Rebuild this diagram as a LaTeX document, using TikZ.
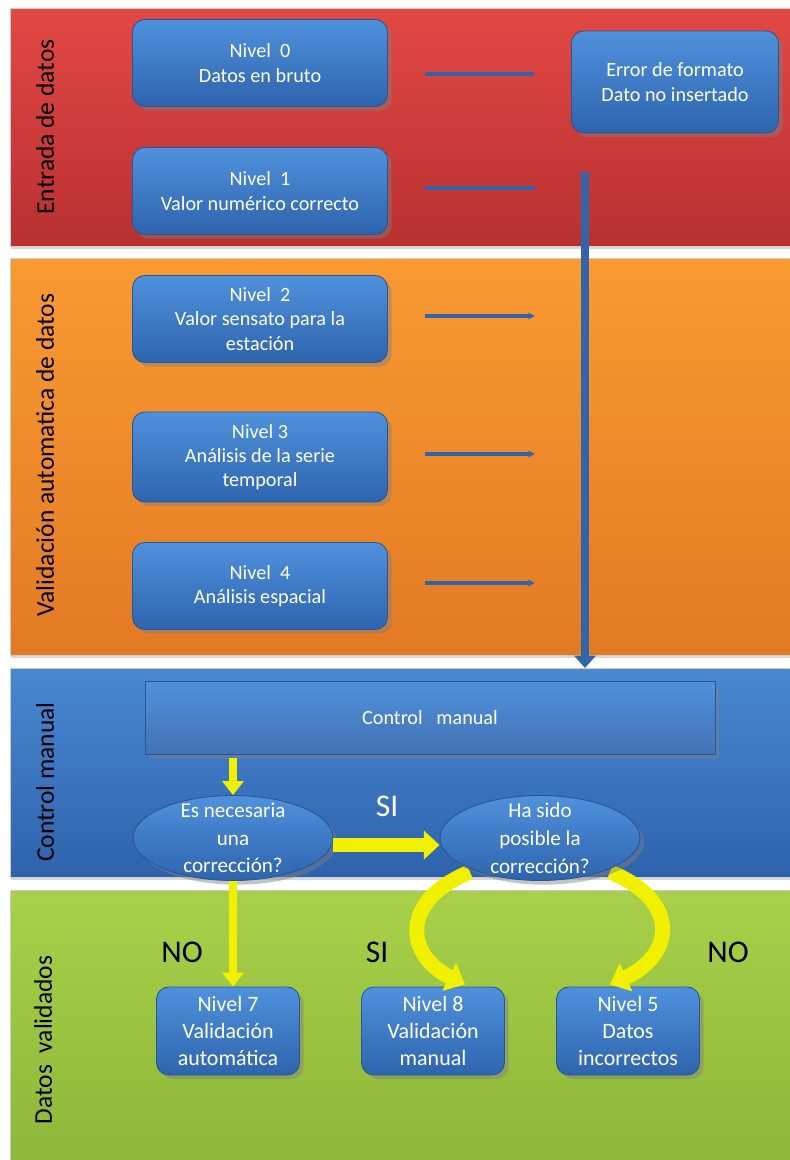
\documentclass[tikz,border=0pt]{standalone}
\usepackage{fontspec}
\setmainfont{Carlito}
\usetikzlibrary{positioning,arrows.meta,shadows,calc,shapes.geometric}

\definecolor{redtop}{RGB}{226,72,68}
\definecolor{redbot}{RGB}{184,48,48}
\definecolor{orgtop}{RGB}{250,154,50}
\definecolor{orgbot}{RGB}{226,122,36}
\definecolor{blutop}{RGB}{74,136,210}
\definecolor{blubot}{RGB}{46,98,172}
\definecolor{grntop}{RGB}{168,208,74}
\definecolor{grnbot}{RGB}{140,182,56}
\definecolor{boxtop}{RGB}{80,145,220}
\definecolor{boxbot}{RGB}{46,100,174}
\definecolor{boxline}{RGB}{40,86,150}
\definecolor{linkblue}{RGB}{52,100,168}
\definecolor{yarr}{RGB}{240,240,0}

\begin{document}
\begin{tikzpicture}[x=0.02cm, y=-0.02cm]
\tikzset{
  band/.style={draw=black!20, line width=0.5pt,
    drop shadow={opacity=0.3, shadow xshift=0.6pt, shadow yshift=-1.6pt}},
  bandlbl/.style={rotate=90, text=black, font=\fontsize{14.5}{16}\selectfont},
  lvl/.style={rectangle, rounded corners=7pt, draw=boxline, line width=0.5pt,
    top color=boxtop, bottom color=boxbot, text=white, align=center,
    minimum width=5.1cm, minimum height=1.74cm, inner sep=2pt,
    font=\fontsize{11.5}{13.8}\selectfont, drop shadow={opacity=0.45}},
  lvlsm/.style={lvl, minimum width=2.86cm, minimum height=1.76cm,
    font=\fontsize{12.5}{15.5}\selectfont},
  ctlbox/.style={rectangle, draw=boxline, line width=0.5pt,
    top color=boxtop, bottom color=blubot!90, text=white,
    minimum width=11.4cm, minimum height=1.46cm,
    font=\fontsize{11.5}{14}\selectfont, drop shadow={opacity=0.45}},
  ask/.style={ellipse, draw=boxline, line width=0.5pt, top color=boxtop,
    bottom color=boxbot, minimum width=4cm, minimum height=1.7cm,
    drop shadow={opacity=0.45}},
  asktxt/.style={text=white, align=center, font=\fontsize{12}{15.8}\selectfont},
  link/.style={line width=2pt, linkblue},
  trunk/.style={line width=4.5pt, linkblue,
    {Triangle[reversed, width=8pt, length=3pt]}-{Triangle[width=12pt, length=7pt]}},
  ydown/.style={yarr, line width=5pt, -{Triangle[width=12pt, length=8pt]}},
  yright/.style={yarr, line width=8pt, -{Triangle[width=16pt, length=9pt]}},
  ycurve/.style={yarr, line width=8.5pt, -{Triangle[width=17pt, length=10pt]}},
  yn/.style={font=\fontsize{18}{20}\selectfont, text=black},
}
\useasboundingbox (0,0) rectangle (790,1160);
\fill[white] (0,0) rectangle (790,1160);

% ---- bands ----
\path[band, top color=redtop, bottom color=redbot] (10,8) rectangle (800,246);
\path[band, top color=orgtop, bottom color=orgbot] (10,258) rectangle (800,655);
\path[band, top color=blutop, bottom color=blubot] (10,668) rectangle (800,877);
\path[band, top color=grntop, bottom color=grnbot] (10,890) rectangle (800,1175);

\node[bandlbl] (lblin) at (45,127) {Entrada de datos};
\node[bandlbl] (lblauto) at (45,455) {Validación automatica de datos};
\node[bandlbl] (lblctl) at (45,782) {Control manual};
\node[bandlbl] (lblok) at (43,1040) {Datos\ \ validados};

% =====================================================================
% Entrada de datos / validacion automatica
% =====================================================================
\node[lvl] (n0) at (260,63) {Nivel\ \ 0\\Datos en bruto};
\node[lvl] (n1) at (260,191) {Nivel\ \ 1\\Valor numérico correcto};
\node[lvl, minimum width=4.14cm, minimum height=2.04cm] (err) at (675,82)
  {Error de formato\\Dato no insertado};
\node[lvl] (n2) at (260,319) {Nivel\ \ 2\\Valor sensato para la\\estación};
\node[lvl, minimum height=1.8cm] (n3) at (260,457) {Nivel 3\\Análisis de la serie\\temporal};
\node[lvl] (n4) at (260,586) {Nivel\ \ 4\\Análisis espacial};

\draw[link] ($(n0.east)+(37,11)$) -- ($(n0.east -| err.west)+(-37,11)$);
\draw[link] ($(n1.east)+(37,-3)$) -- ++(110,0);
\foreach \n in {n2,n3,n4}
  \draw[link, -{Stealth[length=4pt, width=4pt]}] ($(\n.east)+(37,-3)$) -- ++(110,0);

\coordinate (vtop) at (585,172);
\coordinate (vbot) at (585,668);
\draw[trunk] (vtop) -- (vbot);

% =====================================================================
% Datos validados (boxes first, the curves pass under the ellipse)
% =====================================================================
\node[lvlsm] (l7) at (228,1031) {Nivel 7\\Validación\\automática};
\node[lvlsm] (l8) at (433,1031) {Nivel 8\\Validación\\manual};
\node[lvlsm] (l5) at (628,1031) {Nivel 5\\Datos\\incorrectos};

\coordinate (c2) at (540,838);
\draw[ycurve] ($(c2)+(-70,34)$) .. controls (400,900) and (405,955) .. ($(l8.north)+(32,-2)$);
\draw[ycurve] ($(c2)+(70,34)$) .. controls (680,900) and (675,955) .. ($(l5.north)-(18,2)$);

% =====================================================================
% Control manual
% =====================================================================
\node[ctlbox] (ctl) at (430,718) {Control\ \ \ manual};
\node[ask] (q1) at (233,838) {};
\node[asktxt] (q1t) at (q1) {Es necesaria\\una\\corrección?};
\node[ask] (q2) at (c2) {};
\node[asktxt] (q2t) at (q2) {Ha sido\\posible la\\corrección?};

\draw[ydown] ([yshift=-2pt]ctl.south -| q1.north) -- (q1.north);
\draw[yright] ([yshift=-4pt]q1.east) -- ([yshift=-4pt]q2.west);
\node[yn, text=white] (si1) at (387,806) {SI};

\draw[ydown] (q1.south) -- (q1.south |- l7.north);

\node[yn] (no1) at (182,952) {NO};
\node[yn] (si2) at (377,952) {SI};
\node[yn] (no2) at (728,952) {NO};

\end{tikzpicture}
\end{document}
